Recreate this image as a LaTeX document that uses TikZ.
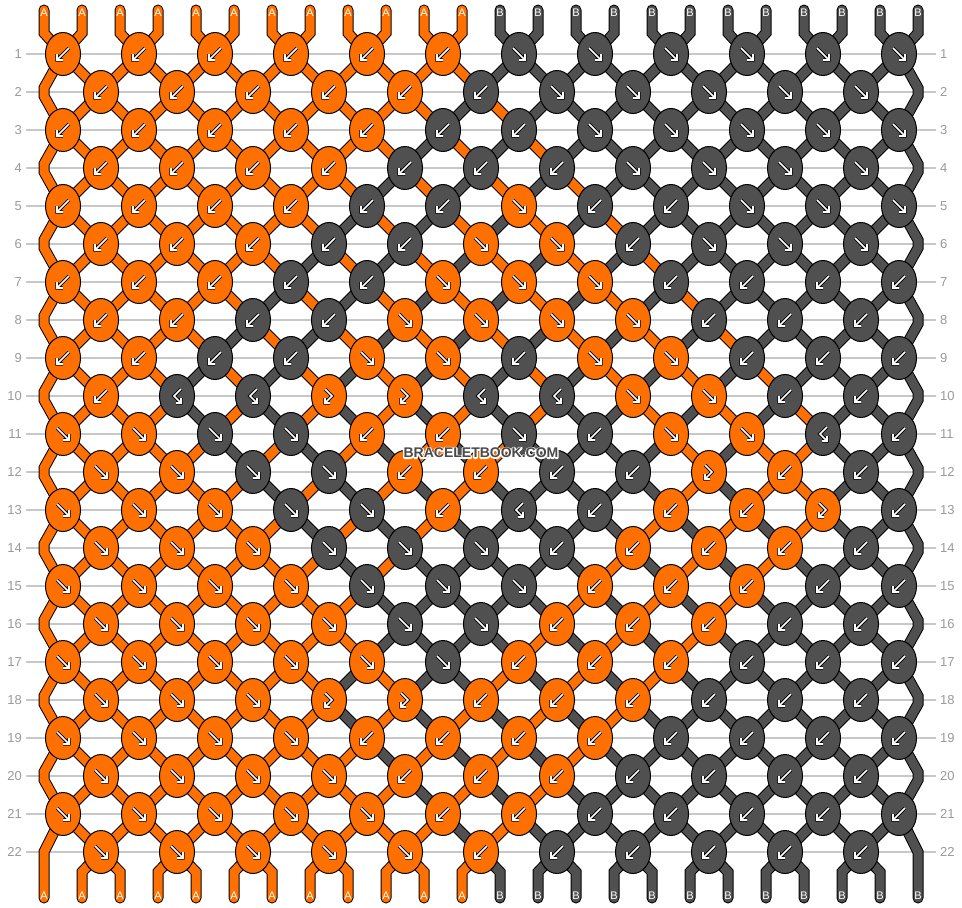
\documentclass[tikz,border=0pt]{standalone}
\usepackage{fontspec}
\setmainfont{Liberation Sans}
\usetikzlibrary{shapes.geometric}
\definecolor{bbO}{HTML}{FF7000}
\definecolor{bbG}{HTML}{505050}
\definecolor{gridc}{HTML}{C8C8C8}
\definecolor{numc}{HTML}{9A9A9A}
\definecolor{wmc}{HTML}{4A4A4A}

\def\setrow#1#2{\expandafter\def\csname kt#1\endcsname{#2}}
\setrow{1}{b,b,b,b,b,b,f,f,f,f,f,f}
\setrow{2}{b,b,b,b,b,b,f,f,f,f,f}
\setrow{3}{b,b,b,b,b,b,b,f,f,f,f,f}
\setrow{4}{b,b,b,b,b,b,b,f,f,f,f}
\setrow{5}{b,b,b,b,b,b,f,b,b,f,f,f}
\setrow{6}{b,b,b,b,b,f,f,b,f,f,f}
\setrow{7}{b,b,b,b,b,f,f,f,b,b,b,b}
\setrow{8}{b,b,b,b,f,f,f,f,b,b,b}
\setrow{9}{b,b,b,b,f,f,b,f,f,b,b,b}
\setrow{10}{b,B,B,F,F,B,B,f,f,b,b}
\setrow{11}{f,f,f,f,b,b,f,b,f,f,B,b}
\setrow{12}{f,f,f,f,b,b,b,b,F,b,b}
\setrow{13}{f,f,f,f,f,b,B,b,b,b,F,b}
\setrow{14}{f,f,f,f,f,f,b,b,b,b,b}
\setrow{15}{f,f,f,f,f,f,f,b,b,b,b,b}
\setrow{16}{f,f,f,f,f,f,b,b,b,b,b}
\setrow{17}{f,f,f,f,f,f,b,b,b,b,b,b}
\setrow{18}{f,f,f,F,F,b,b,b,b,b,b}
\setrow{19}{f,f,f,f,b,b,b,b,b,b,b,b}
\setrow{20}{f,f,f,f,b,b,b,b,b,b,b}
\setrow{21}{f,f,f,f,f,b,b,b,b,b,b,b}
\setrow{22}{f,f,f,f,f,b,b,b,b,b,b}

\newcommand\getpos[2]{%
  \pgfmathtruncatemacro\tmpodd{mod(#1,2)}%
  \pgfmathtruncatemacro\py{54+38*(#1-1)}%
  \ifnum\tmpodd=1
    \pgfmathtruncatemacro\px{63+76*floor(#2/2)}%
  \else
    \ifnum#2=0 \def\px{44}%
    \else\ifnum#2=23 \def\px{918}%
    \else\pgfmathtruncatemacro\px{101+76*floor((#2-1)/2)}%
    \fi\fi
  \fi}

\newcommand\strk[3][]{\ifnum\pass=1 \draw[strout,#1] #3;\else\draw[strfill,draw=#2,#1] #3;\fi}

\newcommand\glb{\draw[glo] (6,-6)--(-5,5) (-6,0)--(-6,6)--(0,6); \draw[glw] (6,-6)--(-5,5) (-6,0)--(-6,6)--(0,6);}
\newcommand\glf{\draw[glo] (-6,-6)--(5,5) (6,0)--(6,6)--(0,6); \draw[glw] (-6,-6)--(5,5) (6,0)--(6,6)--(0,6);}
\newcommand\glFF{\draw[glo] (-4,-7)--(3,0)--(-3,6) (-4,2)--(-4,7)--(1,7); \draw[glw] (-4,-7)--(3,0)--(-3,6) (-4,2)--(-4,7)--(1,7);}
\newcommand\glBB{\draw[glo] (4,-7)--(-3,0)--(3,6) (4,2)--(4,7)--(-1,7); \draw[glw] (4,-7)--(-3,0)--(3,6) (4,2)--(4,7)--(-1,7);}

\begin{document}
\begin{tikzpicture}[x=1pt,y=-1pt,
  strout/.style={line width=11pt, draw=black, line join=miter},
  strfill/.style={line width=9pt, line join=miter},
  knot/.style={ellipse, draw=black, line width=1pt, minimum width=35pt, minimum height=43pt, inner sep=0pt},
  glo/.style={draw=black, line width=3.4pt, line join=miter, line cap=square},
  glw/.style={draw=white, line width=1.7pt, line join=miter, line cap=square},
  numl/.style={font=\fontsize{13}{13}\selectfont, text=numc, inner sep=0pt},
  gridl/.style={draw=gridc, line width=1.2pt},
  tagl/.style={font=\fontsize{11}{11}\selectfont, text=white, inner sep=0pt},
  wm/.style={font=\bfseries\fontsize{14}{14}\selectfont, inner sep=0pt}]
\fill[white] (0,0) rectangle (962,908);
\useasboundingbox (0,0) rectangle (962,908);

% ---- simulation of the strings ----
\foreach \p in {0,...,23}{%
  \ifnum\p<12 \expandafter\xdef\csname st\p\endcsname{bbO}\else\expandafter\xdef\csname st\p\endcsname{bbG}\fi
  \expandafter\xdef\csname cl0-\p\endcsname{\csname st\p\endcsname}%
}
\foreach \r in {1,...,22}{%
  \pgfmathtruncatemacro\rodd{mod(\r,2)}%
  \edef\T{\csname kt\r\endcsname}%
  \foreach \ktype [count=\kk from 0] in \T {%
    \ifnum\rodd=1 \pgfmathtruncatemacro\ii{2*\kk}\else\pgfmathtruncatemacro\ii{2*\kk+1}\fi
    \pgfmathtruncatemacro\jj{\ii+1}%
    \edef\cL{\csname st\ii\endcsname}\edef\cR{\csname st\jj\endcsname}%
    \def\kc{\cR}%
    \if\ktype f\def\kc{\cL}\fi
    \if\ktype F\def\kc{\cL}\fi
    \expandafter\xdef\csname kc\r-\kk\endcsname{\kc}%
    \expandafter\xdef\csname kp\r-\kk\endcsname{\ii}%
    \if\ktype f\expandafter\xdef\csname st\ii\endcsname{\cR}\expandafter\xdef\csname st\jj\endcsname{\cL}\fi
    \if\ktype b\expandafter\xdef\csname st\ii\endcsname{\cR}\expandafter\xdef\csname st\jj\endcsname{\cL}\fi
  }%
  \foreach \p in {0,...,23}{\expandafter\xdef\csname cl\r-\p\endcsname{\csname st\p\endcsname}}%
}

% ---- coordinates ----
\foreach \r in {1,...,22}{\foreach \p in {0,...,23}{\getpos{\r}{\p}\coordinate (s\r-\p) at (\px,\py);}}
\foreach \p in {0,...,23}{%
  \pgfmathtruncatemacro\xx{44+38*\p}%
  \coordinate (t\p) at (\xx,10); \coordinate (tb\p) at (\xx,33);
  \coordinate (bb\p) at (\xx,872); \coordinate (b\p) at (\xx,898);
}

% ---- row numbers and guide lines ----
\foreach \r in {1,...,22}{%
  \pgfmathtruncatemacro\py{54+38*(\r-1)}%
  \node[numl, anchor=east] (L\r) at (22,\py) {\r};
  \node[numl, anchor=west] (R\r) at (940,\py) {\r};
  \draw[gridl, shorten <=4pt, shorten >=4pt] (L\r.east) -- (R\r.west);
}

% ---- strings ----
\foreach \pass in {1,2}{%
  \foreach \p in {0,...,23}{%
    \edef\cc{\csname cl0-\p\endcsname}%
    \strk[line cap=round]{\cc}{(t\p) -- (tb\p) -- (s1-\p)}%
  }%
  \foreach \p in {1,...,22}{%
    \foreach \r in {1,...,21}{%
      \pgfmathtruncatemacro\rn{\r+1}%
      \edef\cc{\csname cl\r-\p\endcsname}%
      \strk{\cc}{(s\r-\p) -- (s\rn-\p)}%
    }%
    \edef\cc{\csname cl22-\p\endcsname}%
    \strk[line cap=round]{\cc}{(s22-\p) -- (bb\p) -- (b\p)}%
  }%
  \foreach \p in {0,23}{%
    \foreach \r in {1,3,...,19}{%
      \pgfmathtruncatemacro\rn{\r+1}\pgfmathtruncatemacro\rnn{\r+2}%
      \edef\cc{\csname cl\r-\p\endcsname}%
      \strk{\cc}{(s\r-\p) -- ([yshift=4pt]s\rn-\p) -- ([yshift=-4pt]s\rn-\p) -- (s\rnn-\p)}%
    }%
    \edef\cc{\csname cl21-\p\endcsname}%
    \strk[line cap=round]{\cc}{(s21-\p) -- (s22-\p) -- (b\p)}%
  }%
}

% ---- tags ----
\foreach \p in {0,...,23}{%
  \pgfmathtruncatemacro\xx{44+38*\p}%
  \ifnum\p<12 \def\lab{A}\else\def\lab{B}\fi
  \node[tagl] (ta\p) at (\xx,13) {\lab};
  \node[tagl] (ba\p) at (\xx,896) {\lab};
}

% ---- knots ----
\foreach \r in {1,...,22}{%
  \edef\T{\csname kt\r\endcsname}%
  \foreach \ktype [count=\kk from 0] in \T {%
    \edef\kc{\csname kc\r-\kk\endcsname}%
    \edef\kp{\csname kp\r-\kk\endcsname}%
    \node[knot, fill=\kc] (k\r-\kk) at (s\r-\kp) {};
    \begin{scope}[shift={(k\r-\kk.center)}]
      \if\ktype b\glb\fi
      \if\ktype f\glf\fi
      \if\ktype B\glBB\fi
      \if\ktype F\glFF\fi
    \end{scope}
  }%
}

% ---- watermark: white stroked halo, then the filled text ----
\node[wm, text=white] (wmh) at (481,453) {\special{pdf:literal direct 1 Tr 1 1 1 RG 2.6 w 1 j}BRACELETBOOK.COM\special{pdf:literal direct 0 Tr}};
\node[wm, text=wmc] (wm) at (481,453) {BRACELETBOOK.COM};
\end{tikzpicture}
\end{document}
